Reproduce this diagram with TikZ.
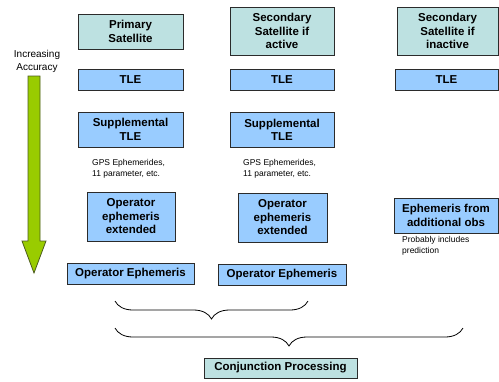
\documentclass[tikz,border=0pt]{standalone}
\usepackage{fontspec}
\setmainfont{Liberation Sans}
\usetikzlibrary{decorations.pathreplacing}
\definecolor{satfill}{HTML}{BDE1E1}
\definecolor{ephfill}{HTML}{99CCFF}
\definecolor{edge}{HTML}{2B2B2B}
\definecolor{accgreen}{HTML}{99CC00}
\tikzset{
  satbox/.style={draw=edge, line width=1pt, fill=satfill, align=center, inner sep=0pt,
    font=\bfseries\fontsize{11.5}{13.5}\selectfont},
  ephbox/.style={satbox, fill=ephfill},
  note/.style={align=left, inner sep=0pt, anchor=west, font=\fontsize{8.5}{10.8}\selectfont}
}

\begin{document}
\begin{tikzpicture}[x=1pt, y=-1pt]
              \useasboundingbox (0,0) rectangle (499,381);

              % Accuracy arrow
              \node[align=center, inner sep=0pt, font=\fontsize{10}{13}\selectfont] (acc) at (37,61.5) {Increasing\\Accuracy};
              \draw[fill=accgreen, draw=edge!70!accgreen, line width=0.8pt]
                (28,76) -- (40,76) -- (40,241) -- (46,241) -- (34,273) -- (22,241) -- (28,241) -- cycle;

              % Primary satellite column
              \node[satbox, minimum width=105, minimum height=35] (prim) at (130.5,31.5) {Primary\\Satellite};
              \node[ephbox, minimum width=105, minimum height=21] (tleA) at (130.5,79.5) {TLE};
              \node[ephbox, minimum width=105, minimum height=35] (supA) at (130.5,129.5) {Supplemental\\TLE};
              \node[note] (gpsA) at (92,168.5) {GPS Ephemerides,\\11 parameter, etc.};
              \node[ephbox, minimum width=88, minimum height=49] (opxA) at (131,216.5) {Operator\\ephemeris\\extended};
              \node[ephbox, minimum width=127, minimum height=21] (opA) at (130.5,273.5) {Operator Ephemeris};

              % Secondary satellite, active
              \node[satbox, minimum width=104, minimum height=48] (secA) at (282,31) {Secondary\\Satellite if\\active};
              \node[ephbox, minimum width=104, minimum height=21] (tleB) at (282,79.5) {TLE};
              \node[ephbox, minimum width=104, minimum height=35] (supB) at (282,130) {Supplemental\\TLE};
              \node[note] (gpsB) at (243,168.5) {GPS Ephemerides,\\11 parameter, etc.};
              \node[ephbox, minimum width=89, minimum height=49] (opxB) at (282.5,217.5) {Operator\\ephemeris\\extended};
              \node[ephbox, minimum width=128, minimum height=21] (opB) at (282,274.5) {Operator Ephemeris};

              % Secondary satellite, inactive
              \node[satbox, minimum width=101, minimum height=48] (secI) at (447.5,31) {Secondary\\Satellite if\\inactive};
              \node[ephbox, minimum width=103, minimum height=21] (tleC) at (446.5,79.5) {TLE};
              \node[ephbox, minimum width=104, minimum height=35] (ephO) at (446,215.5) {Ephemeris from\\additional obs};
              \node[note] (prob) at (402,246) {Probably includes\\prediction};

              % Braces
              \coordinate (brA1) at (115,301);
              \coordinate (brA2) at (308,301);
              \coordinate (brB1) at (115,328);
              \coordinate (brB2) at (463,328);
              \draw[line width=0.8pt, decorate, decoration={brace, mirror, amplitude=18pt}] (brA1) -- (brA2);
              \draw[line width=0.8pt, decorate, decoration={brace, mirror, amplitude=18pt}] (brB1) -- (brB2);

              % Conjunction processing
              \node[satbox, minimum width=153, minimum height=20] (conj) at (280.5,368) {Conjunction Processing};
            \end{tikzpicture}
\end{document}
